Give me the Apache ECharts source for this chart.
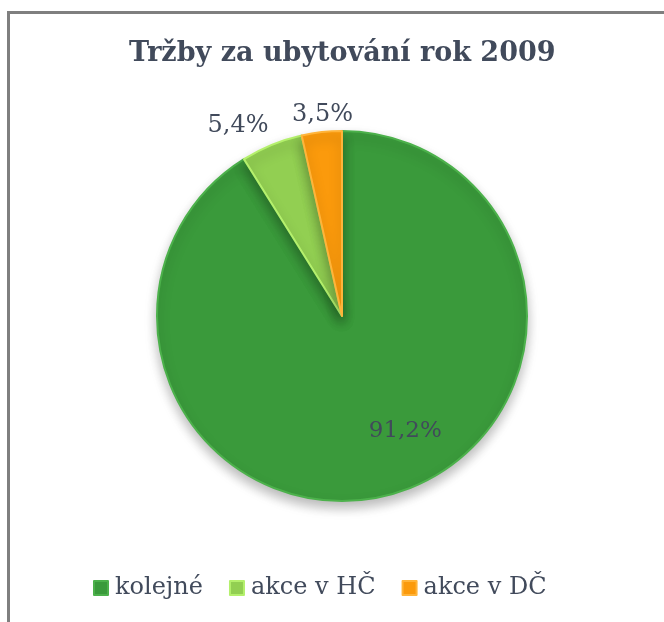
<!DOCTYPE html>
<html>
<head>
<meta charset="utf-8">
<script src="https://cdn.jsdelivr.net/npm/echarts@6/dist/echarts.min.js"></script>
<style>
html,body{margin:0;padding:0;background:#fff;overflow:hidden;}
#frame{position:absolute;left:7px;top:11px;width:700px;height:700px;border:3px solid #7f7f7f;box-sizing:border-box;}
#chart{position:absolute;left:0;top:0;width:664px;height:622px;}
</style>
</head>
<body>
<div id="frame"></div>
<div id="chart"></div>
<script>
const titleText = 'Tržby za ubytování rok 2009';
const categories = ['kolejné', 'akce v HČ', 'akce v DČ'];
const values = [91.2, 5.4, 3.5];
const labelTexts = ['91,2%', '5,4%', '3,5%'];
const colors = ['#3a9a3b', '#92cf52', '#fb9a0c'];
const borderColors = ['#4cb14b', '#b4f06c', '#ffb43a'];

const textColor = '#414a5b';
const serif = '"DejaVu Serif", "Liberation Serif", serif';

const labelSettings = [
  {position: 'inside', offset: [37, 23]},
  {position: 'outside', offset: [4, -14]},
  {position: 'outside', offset: [37, -11]}
];

const chart = echarts.init(document.getElementById('chart'));
chart.setOption({
  animation: false,
  title: {
    text: titleText,
    left: 124,
    top: 35,
    textStyle: {fontFamily: serif, fontWeight: 'bold', fontSize: 27, color: textColor}
  },
  legend: {
    data: categories,
    bottom: 17,
    left: 88,
    icon: 'rect',
    itemWidth: 14,
    itemHeight: 14,
    itemGap: 26,
    textStyle: {fontFamily: serif, fontSize: 24, color: textColor, padding: [0, 0, 0, 2]}
  },
  series: [{
    type: 'pie',
    center: [342, 316],
    radius: 185,
    startAngle: 90,
    clockwise: true,
    avoidLabelOverlap: false,
    labelLayout: {hideOverlap: false},
    labelLine: {show: false, length: 6, length2: 0},
    data: categories.map((c, i) => ({
      name: c,
      value: values[i],
      itemStyle: {
        color: colors[i],
        borderColor: borderColors[i],
        borderWidth: 2,
        shadowBlur: 12,
        shadowOffsetY: 6,
        shadowColor: 'rgba(0,0,0,0.28)'
      },
      label: {
        show: true,
        position: labelSettings[i].position,
        offset: labelSettings[i].offset,
        formatter: labelTexts[i],
        fontFamily: serif,
        fontSize: i === 0 ? 23 : 24,
        color: textColor
      }
    }))
  }]
});
</script>
</body>
</html>
